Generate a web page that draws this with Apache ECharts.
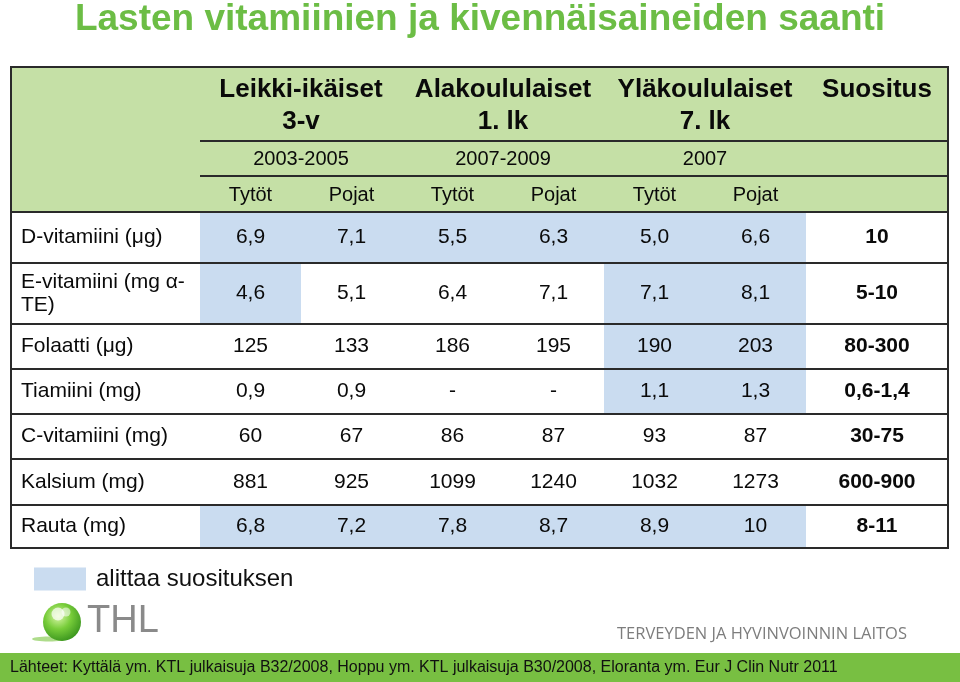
<!DOCTYPE html>
<html><head><meta charset="utf-8">
<script src="https://cdn.jsdelivr.net/npm/echarts@6/dist/echarts.min.js"></script>
<style>html,body{margin:0;padding:0;background:#fff}#chart{width:960px;height:682px}</style>
</head><body><div id="chart"></div>
<script>
// ---------- data ----------
const titleText = 'Lasten vitamiinien ja kivennäisaineiden saanti';
const groups = ['Leikki-ikäiset\n3-v', 'Alakoululaiset\n1. lk', 'Yläkoululaiset\n7. lk'];
const recHeader = 'Suositus';
const years = ['2003-2005', '2007-2009', '2007'];
const sexes = ['Tytöt', 'Pojat'];
const nutrients = ['D-vitamiini (μg)', 'E-vitamiini (mg α-\nTE)', 'Folaatti (μg)', 'Tiamiini (mg)', 'C-vitamiini (mg)', 'Kalsium (mg)', 'Rauta (mg)'];
const intake = [
  ['6,9', '7,1', '5,5', '6,3', '5,0', '6,6'],
  ['4,6', '5,1', '6,4', '7,1', '7,1', '8,1'],
  ['125', '133', '186', '195', '190', '203'],
  ['0,9', '0,9', '-', '-', '1,1', '1,3'],
  ['60', '67', '86', '87', '93', '87'],
  ['881', '925', '1099', '1240', '1032', '1273'],
  ['6,8', '7,2', '7,8', '8,7', '8,9', '10']
];
const recommendation = ['10', '5-10', '80-300', '0,6-1,4', '30-75', '600-900', '8-11'];
const belowRecommendation = [
  [1, 1, 1, 1, 1, 1],
  [1, 0, 0, 0, 1, 1],
  [0, 0, 0, 0, 1, 1],
  [0, 0, 0, 0, 1, 1],
  [0, 0, 0, 0, 0, 0],
  [0, 0, 0, 0, 0, 0],
  [1, 1, 1, 1, 1, 1]
];
const legendLabel = 'alittaa suosituksen';
const sourceText = 'Lähteet: Kyttälä ym. KTL julkaisuja B32/2008, Hoppu ym. KTL julkaisuja B30/2008, Eloranta ym. Eur J Clin Nutr 2011';
const logoText = 'THL';
const instituteText = 'TERVEYDEN JA HYVINVOINNIN LAITOS';

// ---------- layout (relative weights) ----------
const colWeights = [189, 101, 101, 101, 101, 101, 101, 142];
const rowWeights = [74, 35, 36, 51, 61, 45, 45, 45, 46, 43];
const HEAD = 3;
const FONT = '"Liberation Sans", Arial, Helvetica, sans-serif';
const GREEN_HEAD = '#c5e0a6';
const BLUE = '#cadcf0';
const RULE = '#2a2a2a';

const cum = a => a.reduce((acc, w) => { acc.push(acc[acc.length - 1] + w); return acc; }, [0]);
const colEdges = cum(colWeights);
const rowEdges = cum(rowWeights);
const NC = colWeights.length, NR = rowWeights.length;

// text cells
const textCells = [];
groups.forEach((g, i) => textCells.push({ c0: 1 + 2 * i, c1: 3 + 2 * i, r0: 0, r1: 1, text: g, kind: 'group' }));
textCells.push({ c0: NC - 1, c1: NC, r0: 0, r1: 1, text: recHeader, kind: 'groupTop' });
years.forEach((y, i) => textCells.push({ c0: 1 + 2 * i, c1: 3 + 2 * i, r0: 1, r1: 2, text: y, kind: 'sub' }));
groups.forEach((g, i) => sexes.forEach((s, j) => textCells.push({ c0: 1 + 2 * i + j, c1: 2 + 2 * i + j, r0: 2, r1: 3, text: s, kind: 'sub' })));
nutrients.forEach((n, r) => {
  textCells.push({ c0: 0, c1: 1, r0: HEAD + r, r1: HEAD + r + 1, text: n, kind: 'label' });
  intake[r].forEach((v, j) => textCells.push({ c0: 1 + j, c1: 2 + j, r0: HEAD + r, r1: HEAD + r + 1, text: v, kind: 'value' }));
  textCells.push({ c0: NC - 1, c1: NC, r0: HEAD + r, r1: HEAD + r + 1, text: recommendation[r], kind: 'rec' });
});

const highlightData = [];
belowRecommendation.forEach((row, r) => row.forEach((f, j) => {
  if (f) highlightData.push([colEdges[1 + j], rowEdges[HEAD + r], colEdges[2 + j], rowEdges[HEAD + r + 1]]);
}));

const rules = [];
rules.push([colEdges[1], rowEdges[1], colEdges[NC], rowEdges[1], 0]);
rules.push([colEdges[1], rowEdges[2], colEdges[NC], rowEdges[2], 0]);
for (let r = HEAD; r < NR; r++) rules.push([colEdges[0], rowEdges[r], colEdges[NC], rowEdges[r], 0]);
rules.push([colEdges[0], rowEdges[0], colEdges[NC], rowEdges[NR], 1]);

function rectOf(api) {
  const p0 = api.coord([api.value(0), api.value(1)]);
  const p1 = api.coord([api.value(2), api.value(3)]);
  return { x: Math.min(p0[0], p1[0]), y: Math.min(p0[1], p1[1]), width: Math.abs(p1[0] - p0[0]), height: Math.abs(p1[1] - p0[1]) };
}

const styles = {
  group: { size: 26, weight: 'bold', lh: 32, dy: 2 },
  groupTop: { size: 26, weight: 'bold', lh: 32, dy: 2 },
  sub: { size: 20, weight: 'normal', lh: 22, dy: 1 },
  label: { size: 21, weight: 'normal', lh: 23, dy: 0 },
  value: { size: 21, weight: 'normal', lh: 23, dy: 0 },
  rec: { size: 21, weight: 'bold', lh: 23, dy: 0 }
};

const chart = echarts.init(document.getElementById('chart'), null, { renderer: 'canvas' });
chart.setOption({
  animation: false,
  backgroundColor: '#fff',
  title: {
    text: titleText, left: 'center', top: 1, padding: 0,
    textStyle: { fontFamily: FONT, fontSize: 37, fontWeight: 'bold', color: '#6cbd45', lineHeight: 38 }
  },
  legend: {
    data: [legendLabel], left: 34, top: 567, padding: 0, itemWidth: 52, itemHeight: 23,
    icon: 'rect', selectedMode: false,
    textStyle: { fontFamily: FONT, fontSize: 24, color: '#111', padding: [0, 0, 0, 5] }
  },
  grid: { left: 11, top: 67, width: colEdges[NC], height: rowEdges[NR], show: false },
  xAxis: { type: 'value', min: 0, max: colEdges[NC], show: false },
  yAxis: { type: 'value', min: 0, max: rowEdges[NR], inverse: true, show: false },
  series: [
    {
      name: 'header', type: 'custom', silent: true, coordinateSystem: 'cartesian2d',
      encode: { x: [0, 2], y: [1, 3] },
      data: [[colEdges[0], rowEdges[0], colEdges[NC], rowEdges[HEAD]]],
      renderItem: (p, api) => ({ type: 'rect', shape: rectOf(api), style: { fill: GREEN_HEAD } })
    },
    {
      name: legendLabel, type: 'custom', silent: true, coordinateSystem: 'cartesian2d',
      encode: { x: [0, 2], y: [1, 3] }, itemStyle: { color: BLUE },
      data: highlightData,
      renderItem: (p, api) => ({ type: 'rect', shape: rectOf(api), style: { fill: BLUE } })
    },
    {
      name: 'texts', type: 'custom', silent: true, coordinateSystem: 'cartesian2d',
      encode: { x: [0, 2], y: [1, 3] },
      data: textCells.map((c, i) => [colEdges[c.c0], rowEdges[c.r0], colEdges[c.c1], rowEdges[c.r1], i]),
      renderItem: (p, api) => {
        const c = textCells[api.value(4)];
        const r = rectOf(api);
        const s = styles[c.kind];
        let x = r.x + r.width / 2, y = r.y + r.height / 2 + s.dy, align = 'center';
        if (c.kind === 'label') { x = r.x + 10; align = 'left'; }
        if (c.kind === 'groupTop') { y = y - s.lh / 2; }
        return {
          type: 'text',
          style: {
            text: c.text, x: x, y: y, align: align, verticalAlign: 'middle',
            textAlign: align, textVerticalAlign: 'middle',
            fontFamily: FONT, fontSize: s.size, fontWeight: s.weight, lineHeight: s.lh, fill: '#0a0a0a'
          }
        };
      }
    },
    {
      name: 'rules', type: 'custom', silent: true, coordinateSystem: 'cartesian2d',
      encode: { x: [0, 2], y: [1, 3] },
      data: rules,
      renderItem: (p, api) => {
        const p0 = api.coord([api.value(0), api.value(1)]);
        const p1 = api.coord([api.value(2), api.value(3)]);
        if (api.value(4) === 1) {
          return { type: 'rect', shape: { x: p0[0], y: p0[1], width: p1[0] - p0[0], height: p1[1] - p0[1] }, style: { fill: 'none', stroke: RULE, lineWidth: 2 } };
        }
        return { type: 'line', shape: { x1: p0[0], y1: p0[1], x2: p1[0], y2: p1[1] }, style: { stroke: RULE, lineWidth: 2 } };
      }
    }
  ],
  graphic: [
    { type: 'rect', left: 0, top: 653, shape: { width: 960, height: 29 }, style: { fill: '#78bf42' }, silent: true },
    { type: 'text', x: 10, y: 668, style: { text: sourceText, fontFamily: FONT, fontSize: 16, fill: '#111', verticalAlign: 'middle', align: 'left' }, silent: true },
    { type: 'ellipse', shape: { cx: 49, cy: 639, rx: 17, ry: 2.5 }, style: { fill: 'rgba(140,205,90,0.7)' }, silent: true },
    {
      type: 'circle', shape: { cx: 62, cy: 622, r: 19 }, silent: true,
      style: { fill: { type: 'radial', x: 0.4, y: 0.35, r: 0.75, colorStops: [{ offset: 0, color: '#d9f7a8' }, { offset: 0.45, color: '#78cd3a' }, { offset: 1, color: '#2e8a18' }] } }
    },
    { type: 'circle', shape: { cx: 58, cy: 614, r: 6.5 }, style: { fill: 'rgba(255,255,255,0.7)' }, silent: true },
    { type: 'circle', shape: { cx: 66, cy: 612, r: 4.5 }, style: { fill: 'rgba(255,255,255,0.55)' }, silent: true },
    { type: 'text', x: 87, y: 622, style: { text: logoText, fontFamily: FONT, fontSize: 38, fill: '#8a8a8a', verticalAlign: 'middle', align: 'left' }, silent: true },
    { type: 'text', x: 907, y: 634, style: { text: instituteText, fontFamily: '"Open Sans", "Noto Sans", sans-serif', fontSize: 16.5, fill: '#7d7d7d', verticalAlign: 'middle', align: 'right' }, silent: true }
  ]
});
</script></body></html>
